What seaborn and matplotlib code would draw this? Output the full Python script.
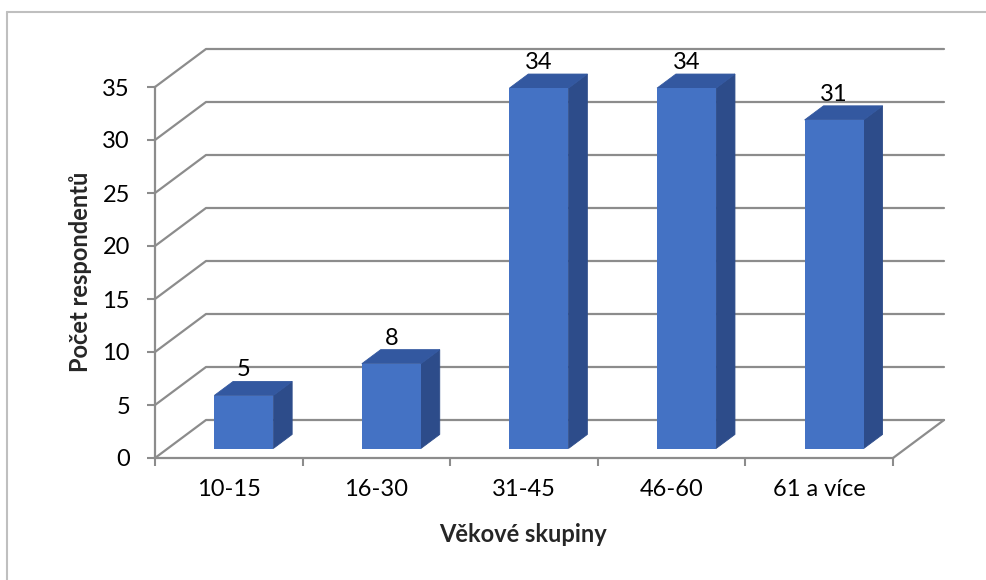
import pandas as pd
import seaborn as sns
import matplotlib
matplotlib.use("Agg")
import matplotlib.pyplot as plt
from matplotlib.patches import Polygon
from matplotlib.lines import Line2D

# data
groups = ["10-15", "16-30", "31-45", "46-60", "61 a více"]
counts = [5, 8, 34, 34, 31]
y_ticks = [0, 5, 10, 15, 20, 25, 30, 35]

df = pd.DataFrame({"skupina": groups, "pocet": counts})

sns.set_theme(style="white")
plt.rcParams["font.family"] = ["Lato", "DejaVu Sans"]

W, H = 986, 580
fig = plt.figure(figsize=(W / 100, H / 100), dpi=100)
ax = fig.add_axes([155 / W, 122 / H, 738 / W, 371 / H])

sns.barplot(data=df, x="skupina", y="pocet", color="#4472C4", width=0.4,
            saturation=1, ax=ax, zorder=3, linewidth=0)
ax.set_xlim(-0.5, 4.5)
ax.set_ylim(0, 35)

# 3d depth vector in data units (x: 147.6 px/unit, y: 10.6 px/unit)
dx, dy = 51 / 147.6, 38 / 10.6
f0, f1 = 0.25, 0.62
grid_c = "#8c8c8c"

# back wall + left wall gridlines
for y in y_ticks:
    ax.plot([-0.5, -0.5 + dx, 4.5 + dx], [y, y + dy, y + dy], color=grid_c,
            lw=1.6, clip_on=False, zorder=1)
# floor right edge
ax.plot([4.5, 4.5 + dx], [0, dy], color=grid_c, lw=1.6, clip_on=False, zorder=1)

# turn the flat bars into boxes
side_c = "#2D4C8A"
top_c = "#3358A0"
ddx, ddy = (f1 - f0) * dx, (f1 - f0) * dy
for p, val in zip(ax.patches, counts):
    x0 = p.get_x() + f0 * dx + 0.015
    w = p.get_width()
    h = p.get_height()
    base = f0 * dy
    p.set_x(x0)
    p.set_y(base)
    p.set_linewidth(0)
    p.set_clip_on(False)
    side = Polygon([(x0 + w, base), (x0 + w + ddx, base + ddy),
                    (x0 + w + ddx, h + base + ddy), (x0 + w, h + base)],
                   closed=True, facecolor=side_c, edgecolor=side_c, lw=0.6,
                   clip_on=False, zorder=2.9)
    top = Polygon([(x0, h + base), (x0 + w, h + base),
                   (x0 + w + ddx, h + base + ddy), (x0 + ddx, h + base + ddy)],
                  closed=True, facecolor=top_c, edgecolor=top_c, lw=0.6,
                  clip_on=False, zorder=2.9)
    ax.add_patch(side)
    ax.add_patch(top)
    ax.text(x0 + w / 2, h + base + ddy + 0.1, str(val), ha="center", va="bottom",
            fontsize=17, color="black", clip_on=False, zorder=4)

# axes styling
sns.despine(ax=ax, top=True, right=True)
for s in ["left", "bottom"]:
    ax.spines[s].set_color(grid_c)
    ax.spines[s].set_linewidth(1.6)
    ax.spines[s].set_zorder(2)
ax.set_yticks(y_ticks)
ax.set_xticks(range(len(groups)))
ax.set_xticks([i - 0.5 for i in range(len(groups) + 1)], minor=True)
ax.tick_params(axis="y", left=True, length=6, width=1.5, color=grid_c,
               labelsize=17, pad=12, labelcolor="black")
ax.tick_params(axis="x", which="major", bottom=True, length=0, labelsize=17,
               pad=15, labelcolor="black")
ax.tick_params(axis="x", which="minor", bottom=True, length=6, width=1.5,
               color=grid_c)
ax.set_xlabel("")
ax.set_ylabel("")
ax.grid(False)

fig.text(80 / W, 1 - 272 / H, "Počet respondentů", rotation=90, ha="center",
         va="center", fontsize=17, fontweight="bold")
fig.text(523 / W, 1 - 535 / H, "Věkové skupiny", ha="center", va="center",
         fontsize=17, fontweight="bold")

# chart frame
fig.add_artist(Line2D([6.5 / W, 6.5 / W], [0, 1 - 12 / H], color="#bfbfbf", lw=1.5))
fig.add_artist(Line2D([6.5 / W, 1], [1 - 12 / H, 1 - 12 / H], color="#bfbfbf", lw=1.5))

fig.savefig("out.png", dpi=100)
